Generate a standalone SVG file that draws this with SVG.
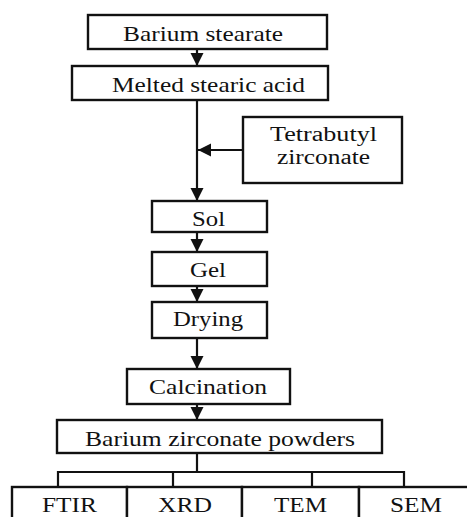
<svg xmlns="http://www.w3.org/2000/svg" width="467" height="517" viewBox="0 0 467 517">
<style>
.box{fill:#fff;stroke:#111;stroke-width:2.4}
.t{font-family:"Liberation Serif","Times New Roman",serif;font-size:21px;fill:#111;text-anchor:middle}
.t2{font-size:20px}
.ln{fill:none;stroke:#111;stroke-width:2.2}
</style>
<defs>
<marker id="ah" markerUnits="userSpaceOnUse" markerWidth="14" markerHeight="14" viewBox="0 0 14 14" refX="13" refY="7" orient="auto">
<path d="M0,0.5 L13,7 L0,13.5 Z" fill="#111"/>
</marker>
</defs>
<rect width="467" height="517" fill="#fff"/>
<g id="connectors">
<line class="ln" x1="197" y1="49" x2="197" y2="66" marker-end="url(#ah)"/>
<line class="ln" x1="197" y1="100" x2="197" y2="201" marker-end="url(#ah)"/>
<line class="ln" x1="243" y1="150" x2="198" y2="150" marker-end="url(#ah)"/>
<line class="ln" x1="197" y1="232" x2="197" y2="252" marker-end="url(#ah)"/>
<line class="ln" x1="197" y1="286" x2="197" y2="302" marker-end="url(#ah)"/>
<line class="ln" x1="197" y1="338" x2="197" y2="369" marker-end="url(#ah)"/>
<line class="ln" x1="197" y1="404" x2="197" y2="420" marker-end="url(#ah)"/>
<path class="ln" d="M197,453 V472 M58,487 V472 H404 V487 M173,472 V487 M312,472 V487"/>
</g>
<g id="barium-stearate"><rect class="box" x="88" y="15" width="239" height="34"/><text class="t" x="203" y="41" textLength="160" lengthAdjust="spacingAndGlyphs">Barium stearate</text></g>
<g id="melted-stearic-acid"><rect class="box" x="72" y="66" width="256" height="34"/><text class="t" x="208.5" y="92" textLength="193" lengthAdjust="spacingAndGlyphs">Melted stearic acid</text></g>
<g id="tetrabutyl-zirconate"><rect class="box" x="243" y="117" width="159" height="66"/><text class="t t2" x="323.5" y="141" textLength="107" lengthAdjust="spacingAndGlyphs">Tetrabutyl</text><text class="t t2" x="323.5" y="164" textLength="93" lengthAdjust="spacingAndGlyphs">zirconate</text></g>
<g id="sol"><rect class="box" x="152" y="201" width="115" height="31"/><text class="t" x="208.5" y="226" textLength="33" lengthAdjust="spacingAndGlyphs">Sol</text></g>
<g id="gel"><rect class="box" x="152" y="252" width="115" height="34"/><text class="t" x="208" y="277" textLength="36" lengthAdjust="spacingAndGlyphs">Gel</text></g>
<g id="drying"><rect class="box" x="152" y="302" width="115" height="36"/><text class="t" x="208" y="326" textLength="70" lengthAdjust="spacingAndGlyphs">Drying</text></g>
<g id="calcination"><rect class="box" x="127" y="369" width="163" height="35"/><text class="t" x="208" y="394" textLength="118" lengthAdjust="spacingAndGlyphs">Calcination</text></g>
<g id="barium-zirconate-powders"><rect class="box" x="57" y="420" width="325" height="33"/><text class="t" x="220" y="446" textLength="270" lengthAdjust="spacingAndGlyphs">Barium zirconate powders</text></g>
<g id="ftir"><rect class="box" x="12" y="487" width="115" height="40"/><text class="t" x="69.5" y="512" textLength="55" lengthAdjust="spacingAndGlyphs">FTIR</text></g>
<g id="xrd"><rect class="box" x="127" y="487" width="115" height="40"/><text class="t" x="185" y="512" textLength="54" lengthAdjust="spacingAndGlyphs">XRD</text></g>
<g id="tem"><rect class="box" x="242" y="487" width="117" height="40"/><text class="t" x="300.5" y="512" textLength="53" lengthAdjust="spacingAndGlyphs">TEM</text></g>
<g id="sem"><rect class="box" x="359" y="487" width="116" height="40"/><text class="t" x="416" y="512" textLength="52" lengthAdjust="spacingAndGlyphs">SEM</text></g>
</svg>
